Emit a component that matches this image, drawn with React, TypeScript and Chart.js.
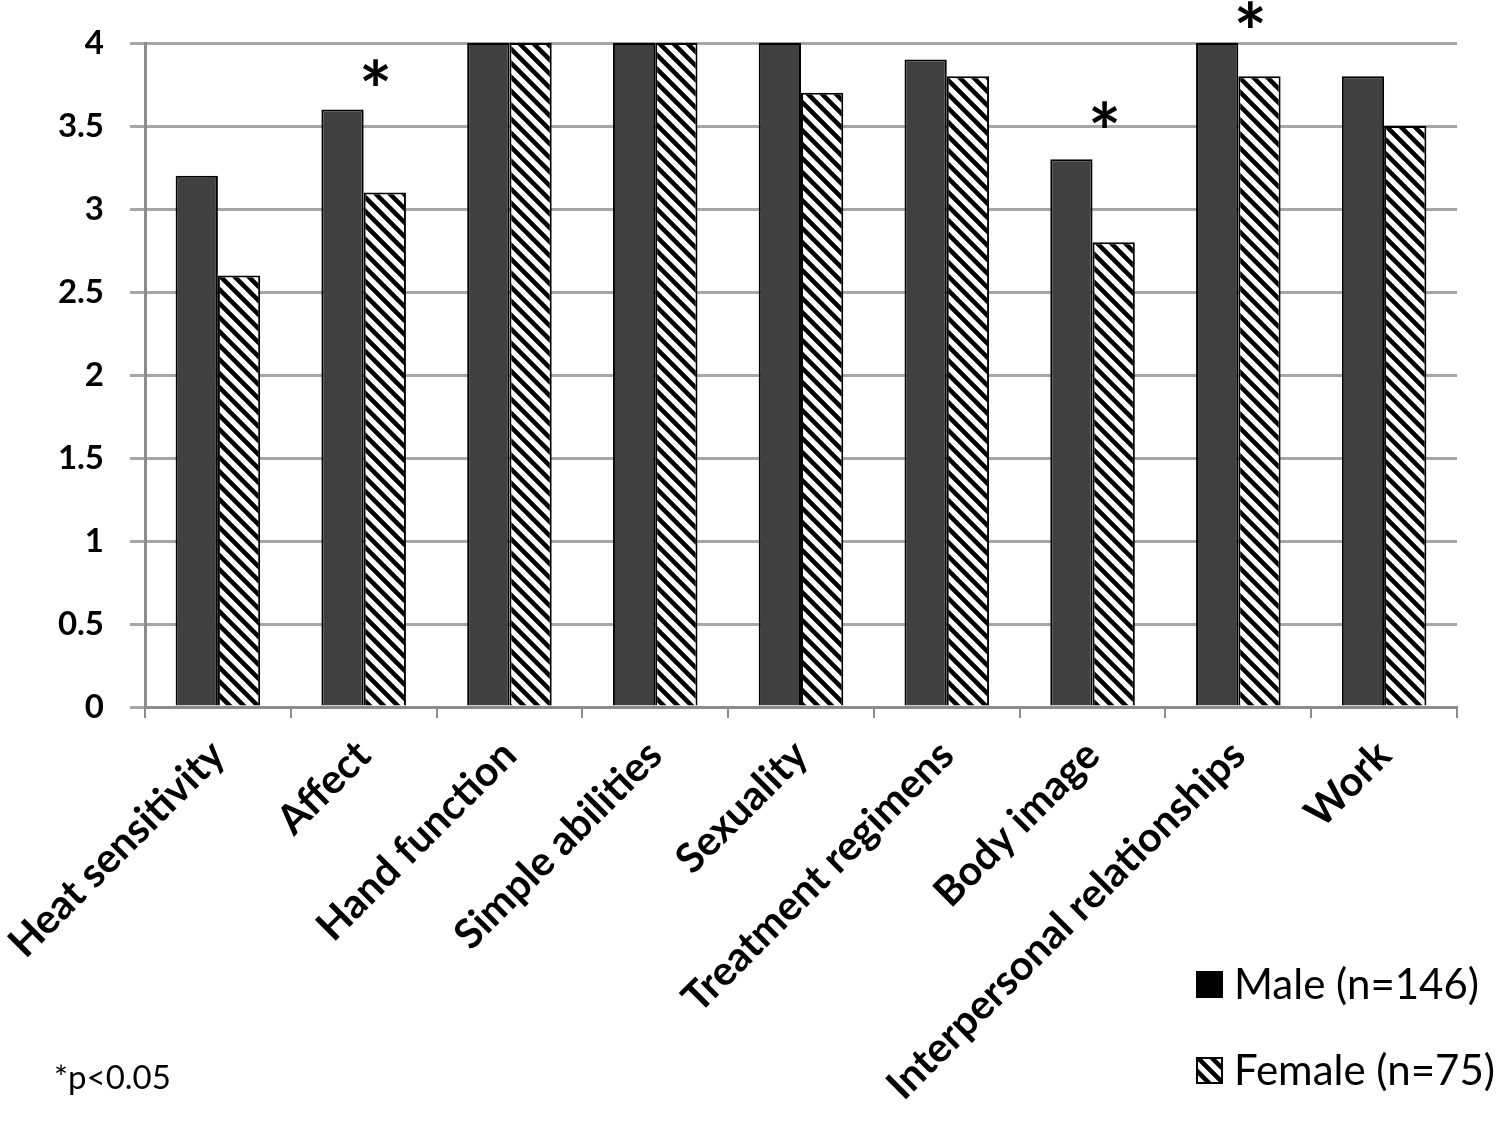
import React, { useEffect, useRef } from "react";
import { Chart, registerables } from "chart.js";

Chart.register(...registerables);

const categories = [
  "Heat sensitivity",
  "Affect",
  "Hand function",
  "Simple abilities",
  "Sexuality",
  "Treatment regimens",
  "Body image",
  "Interpersonal relationships",
  "Work",
];
const maleValues = [3.2, 3.6, 4, 4, 4, 3.9, 3.3, 4, 3.8];
const femaleValues = [2.6, 3.1, 4, 4, 3.7, 3.8, 2.8, 3.8, 3.5];
// level (in axis units) where a significance asterisk is shown, null = none
const significanceLevels = [null, 3.8, null, null, null, null, 3.55, 4.15, null];
const yTicks = [0, 0.5, 1, 1.5, 2, 2.5, 3, 3.5, 4];
const maleLabel = "Male (n=146)";
const femaleLabel = "Female (n=75)";
const footnote = "*p<0.05";

const FONT = "Lato, 'Open Sans', sans-serif";

function makeHatch(): CanvasPattern | string {
  const size = 14;
  const c = document.createElement("canvas");
  c.width = size;
  c.height = size;
  const g = c.getContext("2d");
  if (!g) return "#fff";
  g.fillStyle = "#ffffff";
  g.fillRect(0, 0, size, size);
  g.strokeStyle = "#000000";
  g.lineWidth = 4.5;
  g.beginPath();
  for (let k = -2; k <= 2; k++) {
    g.moveTo(k * size - size, -size);
    g.lineTo(k * size + 2 * size, 2 * size);
  }
  g.stroke();
  const p = g.createPattern(c, "repeat");
  return p || "#fff";
}

export default function App() {
  const ref = useRef<HTMLCanvasElement | null>(null);

  useEffect(() => {
    document.body.style.margin = "0";
    const canvas = ref.current;
    if (!canvas) return;
    const hatch = makeHatch();

    const extras = {
      id: "extras",
      afterDatasetsDraw(chart: any) {
        const ctx = chart.ctx;
        const xs = chart.scales.x;
        const ys = chart.scales.y;
        ctx.save();
        ctx.fillStyle = "#000";
        ctx.font = `bold 78px ${FONT}`;
        ctx.textAlign = "center";
        ctx.textBaseline = "middle";
        significanceLevels.forEach((lvl, i) => {
          if (lvl == null) return;
          const x = xs.getPixelForValue(i) + 12;
          const y = ys.getPixelForValue(lvl);
          ctx.fillText("*", x, y + 18);
        });
        ctx.restore();
      },
      afterDraw(chart: any) {
        const ctx = chart.ctx;
        ctx.save();
        // legend
        ctx.lineWidth = 2;
        ctx.strokeStyle = "#000";
        ctx.fillStyle = "#000";
        ctx.fillRect(1196, 971, 27, 27);
        ctx.fillStyle = hatch as any;
        ctx.fillRect(1196, 1057, 27, 27);
        ctx.strokeRect(1197, 1058, 25, 25);
        ctx.fillStyle = "#000";
        ctx.font = `42px ${FONT}`;
        ctx.textAlign = "left";
        ctx.textBaseline = "middle";
        ctx.fillText(maleLabel, 1234, 985);
        ctx.fillText(femaleLabel, 1234, 1071);
        ctx.font = `33px ${FONT}`;
        ctx.fillText(footnote, 54, 1078);
        ctx.restore();
      },
    };

    const chart = new Chart(canvas, {
      type: "bar",
      data: {
        labels: categories,
        datasets: [
          {
            label: maleLabel,
            data: maleValues,
            backgroundColor: "#404040",
            borderColor: "#000",
            borderWidth: 2,
            categoryPercentage: 0.58,
            barPercentage: 1,
          },
          {
            label: femaleLabel,
            data: femaleValues,
            backgroundColor: hatch as any,
            borderColor: "#000",
            borderWidth: 2,
            categoryPercentage: 0.58,
            barPercentage: 1,
          },
        ],
      },
      options: {
        responsive: false,
        animation: false,
        layout: { padding: { left: 0, right: 43, top: 43, bottom: 0 } },
        plugins: {
          legend: { display: false },
          tooltip: { enabled: false },
        },
        scales: {
          x: {
            grid: {
              display: true,
              drawOnChartArea: false,
              drawTicks: true,
              tickLength: 11,
              color: "#8c8c8c",
              lineWidth: 2,
              offset: true,
            },
            border: { color: "#8c8c8c", width: 3 },
            ticks: {
              color: "#000",
              font: { family: FONT, size: 41, weight: "bold" },
              minRotation: 45,
              maxRotation: 45,
              autoSkip: false,
              padding: 13,
            },
            afterFit(scale: any) {
              scale.height = 1134 - 707;
              scale.paddingLeft = 0;
              scale.paddingRight = 0;
            },
          },
          y: {
            min: 0,
            max: 4,
            afterBuildTicks(scale: any) {
              scale.ticks = yTicks.map((v) => ({ value: v }));
            },
            grid: {
              color: "#a6a6a6",
              lineWidth: 3,
              tickLength: 15,
            },
            border: { color: "#8c8c8c", width: 3 },
            ticks: {
              color: "#000",
              font: { family: FONT, size: 33, weight: "bold" },
              padding: 26,
              callback: (v: any) => String(v),
            },
            afterFit(scale: any) {
              scale.width = 145;
              scale.paddingTop = 0;
              scale.paddingBottom = 0;
            },
          },
        },
      },
      plugins: [extras],
    });
    return () => chart.destroy();
  }, []);

  return (
    <div style={{ position: "absolute", left: 0, top: 0, width: 1500, height: 1134, background: "#fff" }}>
      <canvas ref={ref} width={1500} height={1134} style={{ display: "block", width: 1500, height: 1134 }} />
    </div>
  );
}
